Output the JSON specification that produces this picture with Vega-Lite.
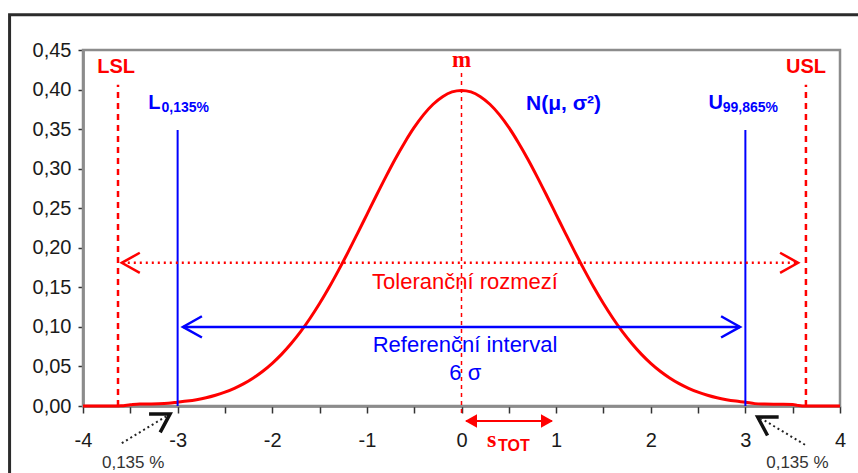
{
  "$schema": "https://vega.github.io/schema/vega-lite/v6.json",
  "width": 757,
  "height": 356,
  "autosize": {"type": "none"},
  "padding": {"left": 83, "top": 50, "right": 18, "bottom": 67},
  "background": "white",
  "config": {
    "view": {"stroke": null},
    "axis": {"grid": false, "zindex": 1, "domainColor": "#333333", "domainWidth": 2, "tickColor": "#333333", "tickWidth": 1.5, "labelFont": "Liberation Sans", "labelColor": "#1a1a1a"},
    "text": {"font": "Liberation Sans"}
  },
  "encoding": {
    "x": {"field": "x", "type": "quantitative", "title": null,
          "scale": {"domain": [-4, 4], "nice": false, "zero": false},
          "axis": {"values": [-4, -3.5, -3, -2.5, -2, -1.5, -1, -0.5, 0, 0.5, 1, 1.5, 2, 2.5, 3, 3.5, 4],
                   "labelExpr": "datum.value % 1 == 0 ? toString(datum.value) : ''",
                   "labelFontSize": 20, "tickSize": 7, "labelPadding": 17, "labelFlush": false, "labelOverlap": false}},
    "y": {"field": "y", "type": "quantitative", "title": null,
          "scale": {"domain": [0, 0.45], "nice": false, "zero": false},
          "axis": {"values": [0, 0.05, 0.1, 0.15, 0.2, 0.25, 0.3, 0.35, 0.4, 0.45],
                   "labelExpr": "replace(format(datum.value, '.2f'), '.', ',')",
                   "labelFontSize": 20, "tickSize": 5, "labelPadding": 7, "labelFlush": false, "labelOverlap": false}}
  },
  "datasets": {
    "curve": [
      {"x": -4.0, "y": 0}, {"x": -3.8, "y": 0}, {"x": -3.6, "y": 0.0002}, {"x": -3.5, "y": 0.0015},
      {"x": -3.4, "y": 0.0025}, {"x": -3.3, "y": 0.0026}, {"x": -3.2, "y": 0.0028}, {"x": -3.1, "y": 0.0034},
      {"x": -3.0, "y": 0.0048}, {"x": -2.9, "y": 0.0062}, {"x": -2.8, "y": 0.0080}, {"x": -2.7, "y": 0.0104},
      {"x": -2.6, "y": 0.0136}, {"x": -2.5, "y": 0.0175}, {"x": -2.4, "y": 0.0224}, {"x": -2.3, "y": 0.0283},
      {"x": -2.2, "y": 0.0355}, {"x": -2.1, "y": 0.0440}, {"x": -2.0, "y": 0.0540}, {"x": -1.9, "y": 0.0656},
      {"x": -1.8, "y": 0.0790}, {"x": -1.7, "y": 0.0940}, {"x": -1.6, "y": 0.1109}, {"x": -1.5, "y": 0.1295},
      {"x": -1.4, "y": 0.1497}, {"x": -1.3, "y": 0.1714}, {"x": -1.2, "y": 0.1942}, {"x": -1.1, "y": 0.2179},
      {"x": -1.0, "y": 0.2420}, {"x": -0.9, "y": 0.2661}, {"x": -0.8, "y": 0.2897}, {"x": -0.7, "y": 0.3123},
      {"x": -0.6, "y": 0.3332}, {"x": -0.5, "y": 0.3521}, {"x": -0.4, "y": 0.3683}, {"x": -0.3, "y": 0.3814},
      {"x": -0.2, "y": 0.3910}, {"x": -0.1, "y": 0.3970}, {"x": 0.0, "y": 0.3989}, {"x": 0.1, "y": 0.3970},
      {"x": 0.2, "y": 0.3910}, {"x": 0.3, "y": 0.3814}, {"x": 0.4, "y": 0.3683}, {"x": 0.5, "y": 0.3521},
      {"x": 0.6, "y": 0.3332}, {"x": 0.7, "y": 0.3123}, {"x": 0.8, "y": 0.2897}, {"x": 0.9, "y": 0.2661},
      {"x": 1.0, "y": 0.2420}, {"x": 1.1, "y": 0.2179}, {"x": 1.2, "y": 0.1942}, {"x": 1.3, "y": 0.1714},
      {"x": 1.4, "y": 0.1497}, {"x": 1.5, "y": 0.1295}, {"x": 1.6, "y": 0.1109}, {"x": 1.7, "y": 0.0940},
      {"x": 1.8, "y": 0.0790}, {"x": 1.9, "y": 0.0656}, {"x": 2.0, "y": 0.0540}, {"x": 2.1, "y": 0.0440},
      {"x": 2.2, "y": 0.0355}, {"x": 2.3, "y": 0.0283}, {"x": 2.4, "y": 0.0224}, {"x": 2.5, "y": 0.0175},
      {"x": 2.6, "y": 0.0136}, {"x": 2.7, "y": 0.0104}, {"x": 2.8, "y": 0.0080}, {"x": 2.9, "y": 0.0062},
      {"x": 3.0, "y": 0.0048}, {"x": 3.1, "y": 0.0030}, {"x": 3.2, "y": 0.0024}, {"x": 3.3, "y": 0.0022},
      {"x": 3.4, "y": 0.0022}, {"x": 3.5, "y": 0.0020}, {"x": 3.55, "y": 0.0008}, {"x": 3.6, "y": 0},
      {"x": 4.0, "y": 0}
    ],
    "frame": [{"x": -4.776, "x2": 6, "y": 0.4946, "y2": -0.3}],
    "plot_area": [{"x": -4, "x2": 4, "y": 0, "y2": 0.45}],
    "spec_limits": [{"name": "LSL", "x": -3.63, "y": 0, "y2": 0.406}, {"name": "USL", "x": 3.64, "y": 0, "y2": 0.406}],
    "mean": [{"x": 0, "y": -0.009, "y2": 0.422}],
    "ref_limits": [{"x": -3, "y": 0, "y2": 0.349}, {"x": 3, "y": 0, "y2": 0.349}],
    "tolerance": [{"x": -3.59, "x2": 3.557, "y": 0.181}],
    "tol_heads": [{"x": -3.59, "y": 0.181, "end": "left"}, {"x": 3.557, "y": 0.181, "end": "right"}],
    "reference": [{"x": -2.944, "x2": 2.944, "y": 0.1}],
    "ref_heads": [{"x": -2.944, "y": 0.1, "end": "left"}, {"x": 2.944, "y": 0.1, "end": "right"}],
    "stot": [{"x": 0.05, "x2": 0.955, "y": -0.019}],
    "stot_heads": [{"x": 0.037, "y": -0.019, "end": "left"}, {"x": 0.967, "y": -0.019, "end": "right"}],
    "tail_lines": [{"x": -3.59, "y": -0.047, "x2": -3.12, "y2": -0.013}, {"x": 3.63, "y": -0.049, "x2": 3.17, "y2": -0.016}],
    "tail_head_left": [{"x": -3.08, "y": -0.010}],
    "tail_head_right": [{"x": 3.13, "y": -0.0139}],
    "spec_labels": [{"x": -3.65, "y": 0.429, "label": "LSL"}, {"x": 3.64, "y": 0.429, "label": "USL"}],
    "mean_label": [{"x": 0, "y": 0.437, "label": "m"}],
    "ref_main": [{"x": -3.31, "y": 0.375, "label": "L"}, {"x": 2.61, "y": 0.376, "label": "U"}],
    "ref_sub": [{"x": -3.17, "y": 0.371, "label": "0,135%"}, {"x": 2.76, "y": 0.372, "label": "99,865%"}],
    "dist_label": [{"x": 1.078, "y": 0.382, "label": "N(μ, σ²)"}],
    "tol_label": [{"x": 0.037, "y": 0.157, "label": "Toleranční rozmezí"}],
    "ref_label": [{"x": 0.037, "y": 0.077, "label": "Referenční interval"}, {"x": 0.04, "y": 0.0417, "label": "6 σ"}],
    "stot_s": [{"x": 0.27, "y": -0.052, "label": "s"}],
    "stot_sub": [{"x": 0.386, "y": -0.0565, "label": "TOT"}],
    "tail_labels": [{"x": -3.47, "y": -0.072, "label": "0,135  %"}, {"x": 3.55, "y": -0.072, "label": "0,135  %"}]
  },
  "layer": [
    {
      "data": {"name": "plot_area"},
      "mark": {"type": "rect", "filled": false, "fill": null, "stroke": "#8c8c8c", "strokeWidth": 2.5},
      "encoding": {"x2": {"field": "x2"}, "y2": {"field": "y2"}}
    },
    {
      "data": {"name": "curve"},
      "mark": {"type": "line", "color": "#ff0000", "strokeWidth": 3, "interpolate": "monotone"}
    },
    {
      "data": {"name": "spec_limits"},
      "mark": {"type": "rule", "color": "#ff0000", "strokeWidth": 2.5, "strokeDash": [6, 5]},
      "encoding": {"y2": {"field": "y2"}}
    },
    {
      "data": {"name": "mean"},
      "mark": {"type": "rule", "color": "#ff0000", "strokeWidth": 1.5, "strokeDash": [4, 4]},
      "encoding": {"y2": {"field": "y2"}}
    },
    {
      "data": {"name": "ref_limits"},
      "mark": {"type": "rule", "color": "#0000ff", "strokeWidth": 2},
      "encoding": {"y2": {"field": "y2"}}
    },
    {
      "data": {"name": "tolerance"},
      "mark": {"type": "rule", "color": "#ff0000", "strokeWidth": 2.5, "strokeDash": [2, 4]},
      "encoding": {"x2": {"field": "x2"}}
    },
    {
      "data": {"name": "tol_heads"},
      "mark": {"type": "point", "filled": false, "stroke": "#ff0000", "strokeWidth": 2.5, "opacity": 1, "size": 1296},
      "encoding": {
        "shape": {"field": "end", "type": "nominal", "legend": null,
                  "scale": {"domain": ["left", "right"], "range": ["M1,-0.56L0,0L1,0.56", "M-1,-0.56L0,0L-1,0.56"]}}
      }
    },
    {
      "data": {"name": "reference"},
      "mark": {"type": "rule", "color": "#0000ff", "strokeWidth": 2.5},
      "encoding": {"x2": {"field": "x2"}}
    },
    {
      "data": {"name": "ref_heads"},
      "mark": {"type": "point", "filled": false, "stroke": "#0000ff", "strokeWidth": 2.5, "opacity": 1, "size": 1444},
      "encoding": {
        "shape": {"field": "end", "type": "nominal", "legend": null,
                  "scale": {"domain": ["left", "right"], "range": ["M1,-0.58L0,0L1,0.58", "M-1,-0.58L0,0L-1,0.58"]}}
      }
    },
    {
      "data": {"name": "stot"},
      "mark": {"type": "rule", "color": "#ff0000", "strokeWidth": 2},
      "encoding": {"x2": {"field": "x2"}}
    },
    {
      "data": {"name": "stot_heads"},
      "mark": {"type": "point", "filled": true, "fill": "#ff0000", "strokeWidth": 0, "opacity": 1, "size": 576},
      "encoding": {
        "shape": {"field": "end", "type": "nominal", "legend": null,
                  "scale": {"domain": ["left", "right"], "range": ["M0,0L1,-0.55L1,0.55Z", "M0,0L-1,-0.55L-1,0.55Z"]}}
      }
    },
    {
      "data": {"name": "tail_lines"},
      "mark": {"type": "rule", "color": "#222222", "strokeWidth": 2, "strokeDash": [2, 3]},
      "encoding": {"x2": {"field": "x2"}, "y2": {"field": "y2"}}
    },
    {
      "data": {"name": "tail_head_left"},
      "mark": {"type": "point", "filled": false, "stroke": "#111111", "strokeWidth": 3.5, "opacity": 1, "size": 1296, "shape": "M-1,-0.6L0,0L-1,0.6", "angle": 329}
    },
    {
      "data": {"name": "tail_head_right"},
      "mark": {"type": "point", "filled": false, "stroke": "#111111", "strokeWidth": 3.5, "opacity": 1, "size": 1296, "shape": "M-1,-0.6L0,0L-1,0.6", "angle": 211}
    },
    {
      "data": {"name": "spec_labels"},
      "mark": {"type": "text", "color": "#ff0000", "fontSize": 20, "fontWeight": "bold", "align": "center", "baseline": "middle"},
      "encoding": {"text": {"field": "label"}}
    },
    {
      "data": {"name": "mean_label"},
      "mark": {"type": "text", "color": "#ff0000", "font": "Liberation Serif", "fontSize": 23, "fontWeight": "bold", "align": "center", "baseline": "middle"},
      "encoding": {"text": {"field": "label"}}
    },
    {
      "data": {"name": "ref_main"},
      "mark": {"type": "text", "color": "#0000ff", "fontSize": 20, "fontWeight": "bold", "align": "left", "baseline": "alphabetic"},
      "encoding": {"text": {"field": "label"}}
    },
    {
      "data": {"name": "ref_sub"},
      "mark": {"type": "text", "color": "#0000ff", "fontSize": 14, "fontWeight": "bold", "align": "left", "baseline": "alphabetic"},
      "encoding": {"text": {"field": "label"}}
    },
    {
      "data": {"name": "dist_label"},
      "mark": {"type": "text", "color": "#0000ff", "fontSize": 21, "fontWeight": "bold", "align": "center", "baseline": "middle"},
      "encoding": {"text": {"field": "label"}}
    },
    {
      "data": {"name": "tol_label"},
      "mark": {"type": "text", "color": "#ff0000", "fontSize": 22, "align": "center", "baseline": "middle"},
      "encoding": {"text": {"field": "label"}}
    },
    {
      "data": {"name": "ref_label"},
      "mark": {"type": "text", "color": "#0000ff", "fontSize": 22, "align": "center", "baseline": "middle"},
      "encoding": {"text": {"field": "label"}}
    },
    {
      "data": {"name": "stot_s"},
      "mark": {"type": "text", "color": "#ff0000", "font": "Liberation Serif", "fontSize": 24, "fontWeight": "bold", "align": "left", "baseline": "alphabetic"},
      "encoding": {"text": {"field": "label"}}
    },
    {
      "data": {"name": "stot_sub"},
      "mark": {"type": "text", "color": "#ff0000", "fontSize": 16, "fontWeight": "bold", "align": "left", "baseline": "alphabetic"},
      "encoding": {"text": {"field": "label"}}
    },
    {
      "data": {"name": "tail_labels"},
      "mark": {"type": "text", "color": "#333333", "fontSize": 17, "align": "center", "baseline": "middle"},
      "encoding": {"text": {"field": "label"}}
    },
    {
      "data": {"name": "frame"},
      "mark": {"type": "rect", "filled": false, "fill": null, "stroke": "#2b2b2b", "strokeWidth": 3},
      "encoding": {"x2": {"field": "x2"}, "y2": {"field": "y2"}}
    }
  ]
}
